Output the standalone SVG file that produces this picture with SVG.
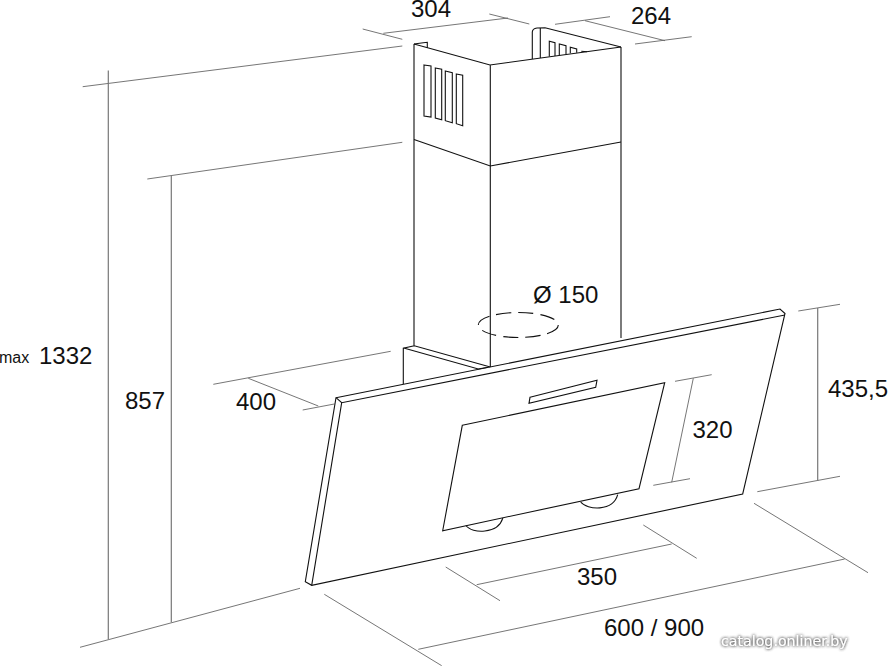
<svg xmlns="http://www.w3.org/2000/svg" width="888" height="666" viewBox="0 0 888 666">
<defs>
<filter id="halo" x="-10%" y="-50%" width="120%" height="200%">
<feGaussianBlur in="SourceAlpha" stdDeviation="1.6" result="b"/>
<feFlood flood-color="#555555" result="c"/>
<feComposite in="c" in2="b" operator="in" result="s"/>
<feMerge><feMergeNode in="s"/><feMergeNode in="s"/><feMergeNode in="SourceGraphic"/></feMerge>
</filter>
</defs>
<style>
.o{fill:none;stroke:#111;stroke-width:1.1}
.d{fill:none;stroke:#666;stroke-width:.9}
.v{fill:none;stroke:#777;stroke-width:1.2}
text{font-family:"Liberation Sans",Arial,sans-serif;font-size:24px;fill:#111}
</style>
<rect width="888" height="666" fill="#fff"/>
<g id="connectors">
<path class="d" d="M82.7 86.7L402.3 46M147.3 179L402.3 142.3M80 647.3L300 588.3"/>
<path class="v" d="M108.3 70.5V639.3M171.3 176V622.3"/>
<path class="d" d="M383.3 33.3L508 18M362.7 29L402.3 39.3M489.3 14L529.3 24"/>
<path class="d" d="M555 24.3L610 16.7M635 44L691.7 36.7M585 20.7L665 40.7"/>
<path class="d" d="M213.3 384.3L390.7 351.3M248.3 378.3L318.3 406M302.7 410L334.3 404"/>
<path class="d" d="M798.3 311L840 304.3M757.3 491.7L840 476.3"/>
<path class="v" d="M817.7 308V481"/>
<path class="d" d="M675 381.3L711.7 374.7M693.3 378.3L671.7 482.3M653.3 485.3L690 478.7"/>
<path class="d" d="M643.3 525L696.7 558.3M445.7 567L500 600.7M476.7 584.7L671.7 544"/>
<path class="d" d="M324.3 594.3L441.7 665.7M754 503.3L868 572.7M418.3 649.3L844.7 559"/>
</g>
<g id="chimney">
<path class="o" d="M414 44L490 65L621 47M414 44V345.7M490.3 65V367M621 47V338"/>
<path class="o" d="M414 139.5L490.3 166L621 142"/>
<path class="o" d="M414 44L423.3 42.7L427.3 42.3V48"/>
<path class="o" d="M532.3 59V32Q532.5 28.5 537 28L545 27.7L621 47M540.3 28V58"/>
<path class="o" d="M424 65L431 66V117L424 116ZM435.3 68L441.7 69.3V119.7L435.3 118ZM445.3 71L452.3 72.7V122.7L445.3 120.7ZM456.3 74L462.7 75.3V125.7L456.3 123.7Z"/>
<path class="o" d="M549.3 56.5V41.3L555 42.7V56M559.3 55V44L566 45.7V54.3M570.3 53.3V47.3L576.7 49V52.7M581.3 51.2L587 51.7"/>
<path class="o" d="M403.3 384V348.3L414.3 345.7L490.3 367M403.7 348L478.3 369L488 367.3"/>
</g>
<g id="duct">
<ellipse cx="518.3" cy="325" rx="40" ry="12.5" fill="none" stroke="#111" stroke-width="1.1" stroke-dasharray="15 7"/>
</g>
<g id="panel">
<path class="o" d="M336 397.7L780 309L785 313.5L742.7 494L311.7 585.3L305.3 581.7Z"/>
<path class="o" d="M336 397.7L341.7 402.7L785 315M341.7 402.7L311.7 585.3"/>
<path class="o" d="M530 397.3L597 380.3L595.7 387.3L529 403.3Z"/>
<path class="o" d="M462.3 425.3L664.7 382.7L639 488.7L442.7 530.7Z"/>
<path class="o" d="M466 525.5C472 534 498 534 502.7 518.3V518M580.7 502C587 510 613 512 617.7 494.7"/>
</g>
<g id="labels">
<text x="411" y="17">304</text>
<text x="631" y="24">264</text>
<text x="-1" y="363" style="font-size:16px">max</text>
<text x="39" y="364">1332</text>
<text x="125" y="408.5">857</text>
<text x="236" y="410">400</text>
<text x="533" y="303">Ø 150</text>
<text x="692.5" y="437.5">320</text>
<text x="828" y="396.5">435,5</text>
<text x="577" y="585">350</text>
<text x="604" y="636">600 / 900</text>
<text x="721" y="646" filter="url(#halo)" style="font-family:'DejaVu Sans',sans-serif;font-size:14.2px;fill:#fff">catalog.onliner.by</text>
</g>
</svg>
